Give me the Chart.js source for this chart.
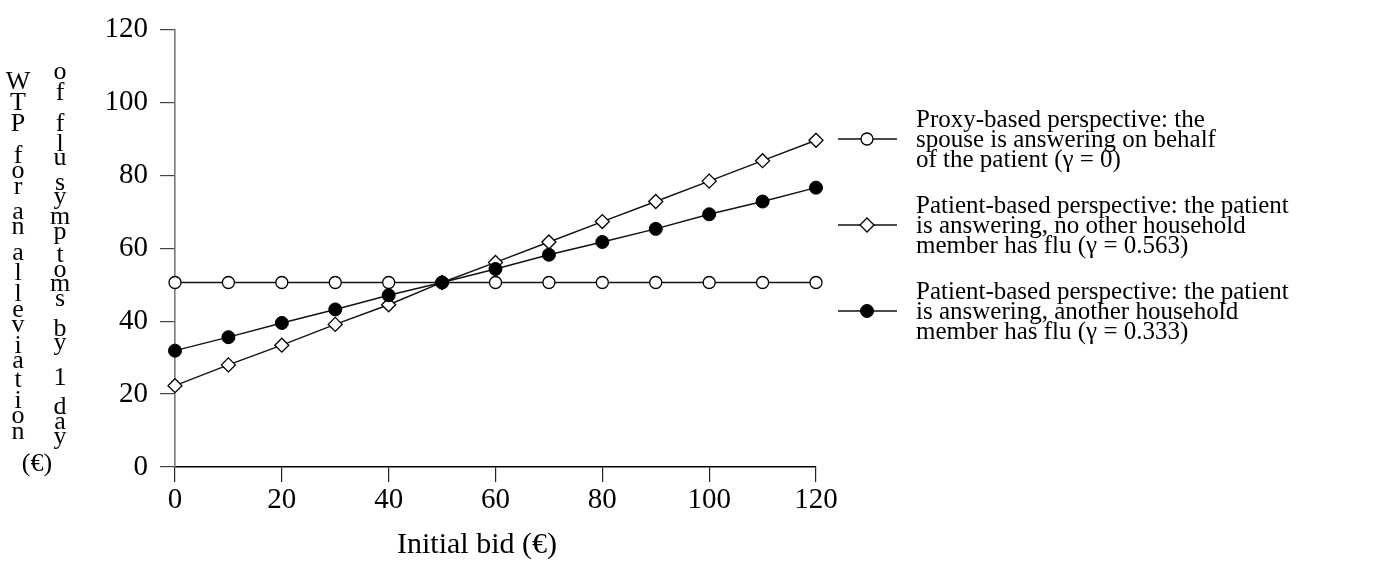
<!DOCTYPE html>
<html lang="en">
<head>
<meta charset="UTF-8">
<title>WTP versus initial bid</title>
<script src="https://cdn.jsdelivr.net/npm/chart.js@4"></script>
<style>
  html, body { margin: 0; padding: 0; background: #fff; }
</style>
</head>
<body>
<canvas id="myChart" width="1376" height="563"></canvas>
<script>
    const bids = [0, 10, 20, 30, 40, 50, 60, 70, 80, 90, 100, 110, 120];
    const proxyWtp = [50.6, 50.6, 50.6, 50.6, 50.6, 50.6, 50.6, 50.6, 50.6, 50.6, 50.6, 50.6, 50.6];
    const noOtherFluWtp = [22.3, 28.0, 33.4, 39.1, 44.5, 50.6, 56.1, 61.7, 67.3, 72.8, 78.4, 84.0, 89.6];
    const otherFluWtp = [31.9, 35.6, 39.5, 43.2, 47.1, 50.6, 54.3, 58.2, 61.7, 65.3, 69.3, 72.8, 76.6];
    const tickValues = [0, 20, 40, 60, 80, 100, 120];

    const seriesLabels = [
        ['Proxy-based perspective: the', 'spouse is answering on behalf', 'of the patient (\u03B3 = 0)'],
        ['Patient-based perspective: the patient', 'is answering, no other household', 'member has flu (\u03B3 = 0.563)'],
        ['Patient-based perspective: the patient', 'is answering, another household', 'member has flu (\u03B3 = 0.333)']
    ];
    const yTitleCols = ['WTP for an alleviation', 'of flu symptoms by 1 day'];
    const yTitleUnit = '(\u20AC)';
    const xTitle = 'Initial bid (\u20AC)';

    const serif = "'Liberation Serif', 'Times New Roman', serif";

    // stack the characters of a string one under the other
    function stackChars(ctx, text, x, yFirst, yLast) {
        const items = [];
        let pos = 0, prevDesc = null, gapExtra = 0;
        for (const c of text) {
            if (c === ' ') { gapExtra += 9; continue; }
            const m = ctx.measureText(c);
            const asc = m.actualBoundingBoxAscent, desc = m.actualBoundingBoxDescent;
            if (prevDesc !== null) pos += prevDesc + 2 + gapExtra + asc;
            items.push({ c: c, base: pos, mid: pos - (asc - desc) / 2 });
            prevDesc = desc;
            gapExtra = 0;
        }
        const first = items[0].mid, last = items[items.length - 1].mid;
        const k = (last - first === 0) ? 1 : (yLast - yFirst) / (last - first);
        items.forEach(it => ctx.fillText(it.c, x, yFirst + (it.base - first) * k));
    }

    function drawMarker(ctx, ds, x, y) {
        ctx.beginPath();
        if (ds.pointStyle === 'rectRot') {
            const r = ds.pointRadius;
            ctx.moveTo(x, y - r); ctx.lineTo(x + r, y); ctx.lineTo(x, y + r); ctx.lineTo(x - r, y);
            ctx.closePath();
        } else {
            ctx.arc(x, y, ds.pointRadius, 0, Math.PI * 2);
        }
        ctx.fillStyle = ds.pointBackgroundColor;
        ctx.fill();
        ctx.lineWidth = ds.pointBorderWidth;
        ctx.strokeStyle = ds.pointBorderColor;
        ctx.stroke();
    }

    const sideText = {
        id: 'sideText',
        afterDraw(chart) {
            const ctx = chart.ctx;
            ctx.save();
            // legend on the right
            const rows = [139, 225, 311];
            ctx.font = '25px ' + serif;
            ctx.textAlign = 'left';
            ctx.textBaseline = 'middle';
            seriesLabels.forEach((lines, i) => {
                const ds = chart.data.datasets[i];
                const cy = rows[i];
                ctx.beginPath();
                ctx.moveTo(838, cy); ctx.lineTo(897, cy);
                ctx.lineWidth = ds.borderWidth;
                ctx.strokeStyle = ds.borderColor;
                ctx.stroke();
                drawMarker(ctx, ds, 867, cy);
                ctx.fillStyle = '#000';
                lines.forEach((t, j) => ctx.fillText(t, 916, cy + 1 + (j - 1) * 20));
            });
            // x axis title, a little left of the axis centre as in the original
            ctx.font = '30px ' + serif;
            ctx.textAlign = 'center';
            ctx.fillText(xTitle, 477, 545);
            // vertical stacked y title
            ctx.font = '26px ' + serif;
            ctx.textBaseline = 'alphabetic';
            stackChars(ctx, yTitleCols[0], 18, 80, 432);
            stackChars(ctx, yTitleCols[1], 60, 73, 440);
            ctx.textBaseline = 'middle';
            ctx.fillText(yTitleUnit, 37, 464);
            ctx.restore();
        }
    };

    const ctx = document.getElementById('myChart').getContext('2d');
    const myChart = new Chart(ctx, {
        type: 'line',
        data: {
            labels: bids,
            datasets: [{
                label: seriesLabels[0].join(' '),
                data: bids.map((b, i) => ({ x: b, y: proxyWtp[i] })),
                borderColor: '#111', borderWidth: 1.4,
                pointStyle: 'circle', pointRadius: 6, pointHoverRadius: 6,
                pointBackgroundColor: '#fff', pointBorderColor: '#000', pointBorderWidth: 1.3,
                order: 2, clip: false
            }, {
                label: seriesLabels[1].join(' '),
                data: bids.map((b, i) => ({ x: b, y: noOtherFluWtp[i] })),
                borderColor: '#111', borderWidth: 1.4,
                pointStyle: 'rectRot', pointRadius: 7, pointHoverRadius: 7,
                pointBackgroundColor: '#fff', pointBorderColor: '#000', pointBorderWidth: 1.3,
                order: 1, clip: false
            }, {
                label: seriesLabels[2].join(' '),
                data: bids.map((b, i) => ({ x: b, y: otherFluWtp[i] })),
                borderColor: '#111', borderWidth: 1.4,
                pointStyle: 'circle', pointRadius: 6.5, pointHoverRadius: 6.5,
                pointBackgroundColor: '#000', pointBorderColor: '#000', pointBorderWidth: 1,
                order: 0, clip: false
            }]
        },
        options: {
            responsive: false,
            animation: false,
            events: [],
            layout: { padding: { left: 0, right: 560, top: 20, bottom: 0 } },
            plugins: { legend: { display: false }, tooltip: { enabled: false } },
            scales: {
                x: {
                    type: 'linear', min: 0, max: 120,
                    afterBuildTicks: s => { s.ticks = tickValues.map(v => ({ value: v })); },
                    afterFit: s => { s.height = 96; },
                    grid: { drawOnChartArea: false, tickLength: 15, color: '#222', lineWidth: 1.2 },
                    border: { color: '#000', width: 1.4 },
                    ticks: { font: { family: serif, size: 29 }, color: '#000', padding: 1, maxRotation: 0 }
                },
                y: {
                    min: 0, max: 120,
                    afterBuildTicks: s => { s.ticks = tickValues.map(v => ({ value: v })); },
                    afterFit: s => { s.width = 175; },
                    grid: { drawOnChartArea: false, tickLength: 15, color: '#444', lineWidth: 1.2 },
                    border: { color: '#777', width: 1.6 },
                    ticks: { font: { family: serif, size: 29 }, color: '#000', padding: 12 }
                }
            }
        },
        plugins: [sideText]
    });
</script>
</body>
</html>
